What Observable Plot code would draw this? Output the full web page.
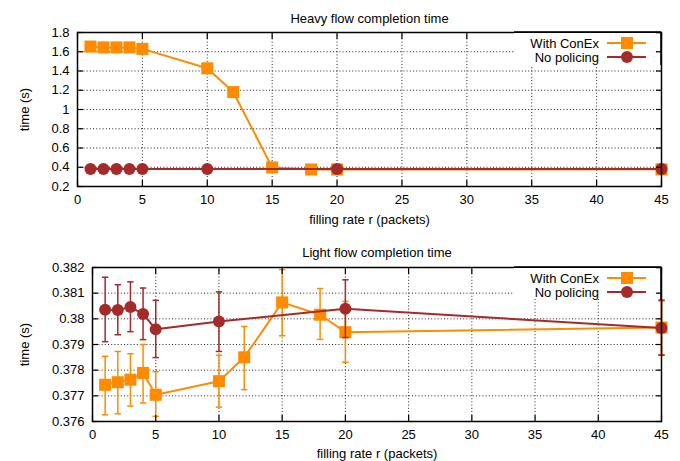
<!DOCTYPE html>
<html><head><meta charset="utf-8">
<script src="https://cdn.jsdelivr.net/npm/d3@7"></script>
<script src="https://cdn.jsdelivr.net/npm/@observablehq/plot@0.6"></script>
<style>body{margin:0;background:#fff} #c svg{display:block} text{font-weight:normal}</style>
</head><body><div id="c"></div>
<script>
const seriesNames = ["With ConEx", "No policing"];
const seriesColors = ["#ff8c00", "#a52a2a"];
const xConEx = [1, 2, 3, 4, 5, 10, 12, 15, 18, 20, 45];
const xNoPol = [1, 2, 3, 4, 5, 10, 20, 45];

const heavyConEx = [1.654, 1.645, 1.645, 1.645, 1.63, 1.428, 1.181, 0.398, 0.377, 0.377, 0.378];
const heavyNoPol = [0.381, 0.381, 0.381, 0.381, 0.381, 0.381, 0.381, 0.381];

const lightConEx   = [0.37743, 0.37753, 0.37763, 0.37789, 0.37704, 0.37757, 0.3785, 0.38064, 0.38016, 0.37948, 0.37966];
const lightConExLo = [0.37626, 0.3763, 0.3766, 0.37672, 0.3762, 0.37656, 0.37724, 0.37934, 0.3792, 0.37831, 0.3786];
const lightConExHi = [0.37854, 0.37873, 0.37864, 0.379, 0.37794, 0.37858, 0.3797, 0.38192, 0.38118, 0.38068, 0.3807];
const lightNoPol   = [0.38035, 0.38034, 0.38046, 0.38019, 0.37959, 0.3799, 0.38039, 0.37964];
const lightNoPolLo = [0.37911, 0.37938, 0.3795, 0.37919, 0.37849, 0.37873, 0.37927, 0.37858];
const lightNoPolHi = [0.38162, 0.38133, 0.38144, 0.3812, 0.38072, 0.38105, 0.38152, 0.38073];

const xTicks = [0, 5, 10, 15, 20, 25, 30, 35, 40, 45];
const heavyYTicks = [0.2, 0.4, 0.6, 0.8, 1.0, 1.2, 1.4, 1.6, 1.8];
const lightYTicks = [0.376, 0.377, 0.378, 0.379, 0.38, 0.381, 0.382];

const titles = ["Heavy flow completion time", "Light flow completion time"];
const xLabel = "filling rate r (packets)";
const yLabel = "time (s)";

const FONT = "'Liberation Sans', Arial, Helvetica, sans-serif";

function rows(xs, ys, lo, hi) {
  return xs.map((x, i) => ({x, y: ys[i], lo: lo ? lo[i] : null, hi: hi ? hi[i] : null}));
}

const capSymbol = {draw(ctx) { ctx.moveTo(-3.2, 0); ctx.lineTo(3.2, 0); }};

function panel(o) {
  const marks = [
    Plot.gridX(xTicks, {stroke: "#000", strokeOpacity: 0.85, strokeDasharray: "1,2.2"}),
    Plot.gridY(o.yTicks, {stroke: "#000", strokeOpacity: 0.85, strokeDasharray: "1,2.2"}),
  ];
  o.series.forEach((s, k) => {
    const c = seriesColors[k];
    if (s.some(d => d.lo != null)) {
      marks.push(Plot.ruleX(s, {x: "x", y1: "lo", y2: "hi", stroke: c, strokeWidth: 1.5}));
      marks.push(Plot.dot(s, {x: "x", y: "lo", symbol: capSymbol, r: 3, stroke: c, strokeWidth: 1.5}));
      marks.push(Plot.dot(s, {x: "x", y: "hi", symbol: capSymbol, r: 3, stroke: c, strokeWidth: 1.5}));
    }
    marks.push(Plot.line(s, {x: "x", y: "y", stroke: c, strokeWidth: 2}));
    marks.push(k === 0
      ? Plot.dot(s, {x: "x", y: "y", symbol: "square", r: 6.8, fill: c, stroke: "none"})
      : Plot.dot(s, {x: "x", y: "y", symbol: "circle", r: 6, fill: c, stroke: "none"}));
  });
  marks.push(
    Plot.axisX(xTicks, {tickSize: 0, tickPadding: o.xPad, fontSize: 13, label: xLabel, labelAnchor: "center", labelOffset: o.xLabelOffset, labelArrow: "none"}),
    Plot.axisX(xTicks, {anchor: "bottom", tickSize: -6, tickFormat: () => "", label: null, strokeWidth: 1.2}),
    Plot.axisX(xTicks, {anchor: "top", tickSize: -6, tickFormat: () => "", label: null, strokeWidth: 1.2}),
    Plot.axisY(o.yTicks, {tickSize: 0, tickPadding: 8, tickFormat: o.fmt, fontSize: 13, label: yLabel, labelAnchor: "center", labelOffset: o.yLabelOffset, labelArrow: "none"}),
    Plot.axisY(o.yTicks, {anchor: "left", tickSize: -6, tickFormat: () => "", label: null, strokeWidth: 1.2}),
    Plot.axisY(o.yTicks, {anchor: "right", tickSize: -6, tickFormat: () => "", label: null, strokeWidth: 1.2}),
    Plot.frame({stroke: "#000", strokeWidth: 1.5}),
    Plot.text([o.title], {frameAnchor: "top", dy: o.titleDy, fontSize: 13, fill: "#000"})
  );
  const svg = Plot.plot({
    width: 680, height: o.height,
    marginTop: o.marginTop, marginBottom: o.marginBottom, marginLeft: o.marginLeft, marginRight: 19,
    style: {fontFamily: FONT, fontSize: "13px", color: "#000", background: "#fff", overflow: "visible"},
    x: {domain: [0, 45]},
    y: {domain: o.yDomain},
    marks
  });
  // key (legend) in the top-right corner of the frame
  const g = d3.select(svg).append("g").attr("font-family", FONT).attr("font-size", 13);
  const top = o.marginTop;
  g.append("rect").attr("x", 514).attr("y", top + 1).attr("width", 142).attr("height", top === 32 ? 32 : 29).attr("fill", "#fff");
  seriesNames.forEach((name, k) => {
    const yy = top + 11 + k * 14;
    g.append("text").attr("x", 599).attr("y", yy).attr("dy", "0.35em").attr("text-anchor", "end").attr("fill", "#000").text(name);
    g.append("line").attr("x1", 607).attr("x2", 646).attr("y1", yy).attr("y2", yy).attr("stroke", seriesColors[k]).attr("stroke-width", 2);
    if (k === 0) g.append("rect").attr("x", 627 - 6).attr("y", yy - 6).attr("width", 12).attr("height", 12).attr("fill", seriesColors[k]);
    else g.append("circle").attr("cx", 627).attr("cy", yy).attr("r", 6).attr("fill", seriesColors[k]);
  });
  // redraw border segments over the key
  g.append("line").attr("x1", 661).attr("x2", 661).attr("y1", top).attr("y2", top + 33).attr("stroke", "#000").attr("stroke-width", 1.5);
  g.append("line").attr("x1", 514).attr("x2", 661).attr("y1", top).attr("y2", top).attr("stroke", "#000").attr("stroke-width", 1.5);
  return svg;
}

const c = document.getElementById("c");
c.append(panel({
  title: titles[0], height: 230, marginTop: 32, marginBottom: 44, marginLeft: 77,
  yDomain: [0.2, 1.8], yTicks: heavyYTicks, fmt: d => String(+d.toFixed(1)),
  series: [rows(xConEx, heavyConEx), rows(xNoPol, heavyNoPol)],
  xPad: 8, xLabelOffset: 37, yLabelOffset: 58, titleDy: -19
}));
c.append(panel({
  title: titles[1], height: 231, marginTop: 37, marginBottom: 40, marginLeft: 92,
  yDomain: [0.376, 0.382], yTicks: lightYTicks, fmt: d => String(+d.toFixed(3)),
  series: [rows(xConEx, lightConEx, lightConExLo, lightConExHi), rows(xNoPol, lightNoPol, lightNoPolLo, lightNoPolHi)],
  xPad: 8.5, xLabelOffset: 36, yLabelOffset: 73, titleDy: -20
}));
</script></body></html>
